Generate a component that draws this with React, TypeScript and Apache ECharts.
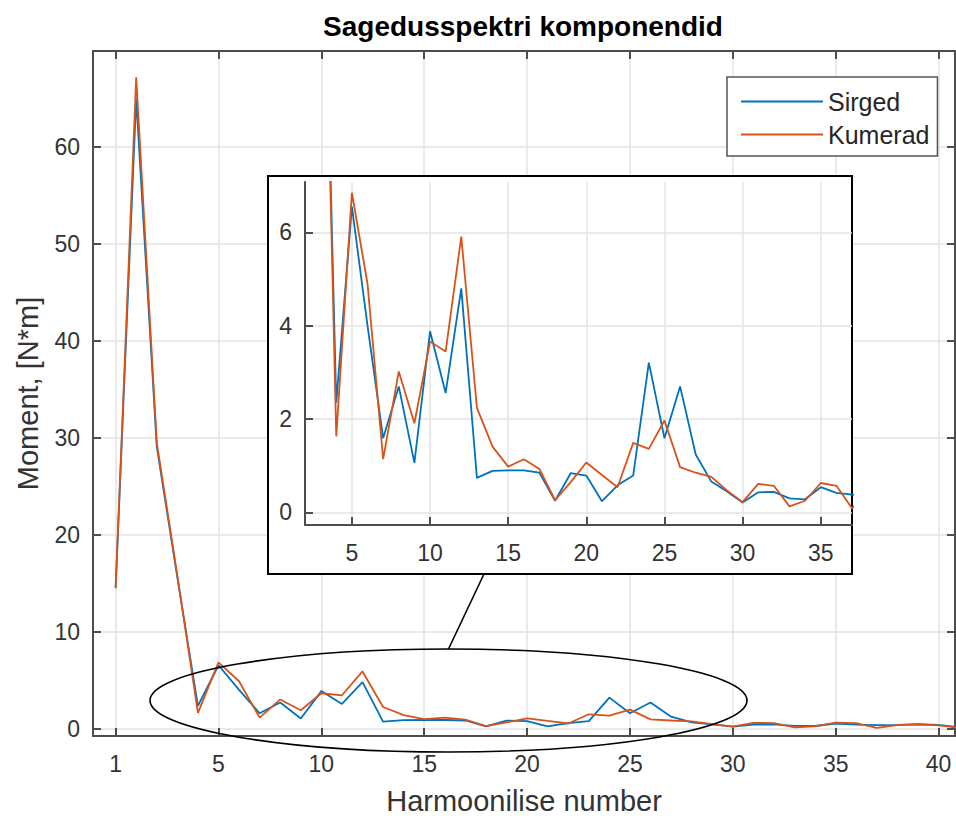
import React, { useEffect, useRef } from 'react';
import * as echarts from 'echarts';

// Harmonic positions (x = 0 is labelled "1" on the axis)
const harmonics = [
  0, 1, 2, 3, 4, 5, 6, 7, 8, 9, 10, 11, 12, 13, 14, 15, 16, 17, 18, 19, 20,
  21, 22, 23, 24, 25, 26, 27, 28, 29, 30, 31, 32, 33, 34, 35, 36, 37, 38, 39, 40, 41,
];
const sirged = [
  14.5, 65.0, 29.1, 15.6, 2.35, 6.55, 4.0, 1.59, 2.7, 1.06, 3.88, 2.56, 4.8, 0.74, 0.89,
  0.9, 0.9, 0.85, 0.25, 0.84, 0.79, 0.24, 0.58, 0.79, 3.21, 1.59, 2.7, 1.24, 0.66, 0.45,
  0.21, 0.43, 0.44, 0.3, 0.28, 0.54, 0.42, 0.38, 0.4, 0.46, 0.4, 0.15,
];
const kumerad = [
  14.5, 67.2, 29.5, 15.8, 1.63, 6.85, 4.9, 1.14, 3.02, 1.91, 3.66, 3.45, 5.91, 2.24, 1.41,
  0.98, 1.14, 0.93, 0.26, 0.65, 1.07, 0.8, 0.54, 1.49, 1.36, 1.97, 0.97, 0.85, 0.76, 0.47,
  0.22, 0.61, 0.57, 0.13, 0.25, 0.63, 0.57, 0.09, 0.38, 0.45, 0.35, 0.1,
];

const mainXTicks = [0, 5, 10, 15, 20, 25, 30, 35, 40];
const mainXTickLabels = ['1', '5', '10', '15', '20', '25', '30', '35', '40'];
const mainYTicks = [0, 10, 20, 30, 40, 50, 60];
const insetXTicks = [5, 10, 15, 20, 25, 30, 35];
const insetYTicks = [0, 2, 4, 6];

const titleText = 'Sagedusspektri komponendid';
const xName = 'Harmoonilise number';
const yName = 'Moment, [N*m]';
const seriesNames = ['Sirged', 'Kumerad'];
const seriesColors = ['#0072BD', '#D95319'];

const FONT = '"Liberation Sans", Arial, sans-serif';
const AXIS_COLOR = '#4d4d4d';
const LABEL_COLOR = '#333333';
const GRID_COLOR = '#e3e3e3';

function xAxisDef(o: any) {
  return {
    type: 'value',
    gridIndex: o.grid,
    position: o.position,
    min: o.min,
    max: o.max,
    z: o.z,
    axisLine: { show: true, onZero: false, lineStyle: { color: AXIS_COLOR, width: 2 } },
    axisTick: {
      show: true,
      inside: true,
      length: 8,
      customValues: o.ticks,
      lineStyle: { color: AXIS_COLOR, width: 2 },
    },
    axisLabel: o.labels
      ? {
          show: true,
          customValues: o.ticks,
          formatter: o.formatter,
          fontSize: 23,
          fontFamily: FONT,
          color: LABEL_COLOR,
          margin: 16,
        }
      : { show: false },
    splitLine: o.split
      ? { show: true, lineStyle: { color: GRID_COLOR, width: 1.5 } }
      : { show: false },
    name: o.name,
    nameLocation: 'middle',
    nameGap: o.nameGap,
    nameTextStyle: { fontSize: 29, fontFamily: FONT, color: LABEL_COLOR },
  };
}

function yAxisDef(o: any) {
  return {
    type: 'value',
    gridIndex: o.grid,
    position: o.position,
    min: o.min,
    max: o.max,
    z: o.z,
    axisLine: { show: true, onZero: false, lineStyle: { color: AXIS_COLOR, width: 2 } },
    axisTick: {
      show: true,
      inside: true,
      length: 8,
      customValues: o.ticks,
      lineStyle: { color: AXIS_COLOR, width: 2 },
    },
    axisLabel: o.labels
      ? {
          show: true,
          customValues: o.ticks,
          fontSize: 23,
          fontFamily: FONT,
          color: LABEL_COLOR,
          margin: 13,
        }
      : { show: false },
    splitLine: o.split
      ? { show: true, lineStyle: { color: GRID_COLOR, width: 1.5 } }
      : { show: false },
    name: o.name,
    nameLocation: 'middle',
    nameGap: o.nameGap,
    nameTextStyle: { fontSize: 29, fontFamily: FONT, color: LABEL_COLOR },
  };
}

export default function App() {
  const ref = useRef<HTMLDivElement>(null);

  useEffect(() => {
    if (!ref.current) return;
    const chart = echarts.init(ref.current, undefined, { renderer: 'svg' });

    const blueData = harmonics.map((h, i) => [h, sirged[i]]);
    const orangeData = harmonics.map((h, i) => [h, kumerad[i]]);
    const labelFor = (v: number) => {
      const idx = mainXTicks.indexOf(v);
      return idx >= 0 ? mainXTickLabels[idx] : String(v);
    };

    const lineSeries = (name: string, data: any, color: string, axis: number, z: number) => ({
      type: 'line',
      name,
      data,
      xAxisIndex: axis,
      yAxisIndex: axis,
      symbol: 'none',
      showSymbol: false,
      clip: true,
      z,
      lineStyle: { color, width: 1.8 },
      itemStyle: { color },
      emphasis: { disabled: true },
    });

    chart.setOption({
      animation: false,
      backgroundColor: '#ffffff',
      title: {
        text: titleText,
        left: 523,
        top: 12,
        padding: 0,
        textAlign: 'center',
        textStyle: { fontSize: 28, fontWeight: 'bold', fontFamily: FONT, color: '#000' },
      },
      legend: {
        data: seriesNames,
        orient: 'vertical',
        left: 727,
        top: 77,
        icon: 'rect',
        itemWidth: 82,
        itemHeight: 2,
        itemGap: 8,
        padding: [12, 8, 9, 14],
        backgroundColor: '#ffffff',
        borderColor: '#555555',
        borderWidth: 1.5,
        borderRadius: 0,
        selectedMode: false,
        z: 12,
        textStyle: { fontSize: 25, fontFamily: FONT, color: '#262626', lineHeight: 24 },
      },
      grid: [
        { left: 93, top: 51, width: 862, height: 687 },
        { left: 305, top: 182, width: 547, height: 343 },
      ],
      xAxis: [
        xAxisDef({
          grid: 0, position: 'bottom', min: -1.1, max: 40.8, ticks: mainXTicks, labels: true,
          formatter: labelFor, split: true, name: xName, nameGap: 50, z: 0,
        }),
        xAxisDef({ grid: 0, position: 'top', min: -1.1, max: 40.8, ticks: mainXTicks, labels: false, split: false, z: 0 }),
        xAxisDef({
          grid: 1, position: 'bottom', min: 2, max: 37, ticks: insetXTicks, labels: true,
          formatter: (v: number) => String(v), split: true, z: 6,
        }),
      ],
      yAxis: [
        yAxisDef({
          grid: 0, position: 'left', min: -0.75, max: 69.9, ticks: mainYTicks, labels: true,
          split: true, name: yName, nameGap: 51, z: 0,
        }),
        yAxisDef({ grid: 0, position: 'right', min: -0.75, max: 69.9, ticks: mainYTicks, labels: false, split: false, z: 0 }),
        yAxisDef({
          grid: 1, position: 'left', min: -0.27, max: 7.08, ticks: insetYTicks, labels: true,
          split: true, z: 6,
        }),
      ],
      series: [
        lineSeries(seriesNames[0], blueData, seriesColors[0], 0, 2),
        lineSeries(seriesNames[1], orangeData, seriesColors[1], 0, 2),
        lineSeries(seriesNames[0], blueData, seriesColors[0], 2, 7),
        lineSeries(seriesNames[1], orangeData, seriesColors[1], 2, 7),
      ],
      graphic: [
        {
          type: 'rect',
          z: 5,
          shape: { x: 268, y: 176, width: 584, height: 398 },
          style: { fill: '#ffffff', stroke: '#000000', lineWidth: 2 },
          silent: true,
        },
        {
          type: 'ellipse',
          z: 10,
          shape: { cx: 448.5, cy: 700.5, rx: 298.5, ry: 51.5 },
          style: { fill: 'none', stroke: '#000000', lineWidth: 1.6 },
          silent: true,
        },
        {
          type: 'line',
          z: 10,
          shape: { x1: 448.5, y1: 649, x2: 484, y2: 574 },
          style: { stroke: '#000000', lineWidth: 1.6 },
          silent: true,
        },
      ],
    });

    return () => chart.dispose();
  }, []);

  return (
    <div
      ref={ref}
      style={{ position: 'absolute', left: 0, top: 0, width: 956, height: 820 }}
    />
  );
}
